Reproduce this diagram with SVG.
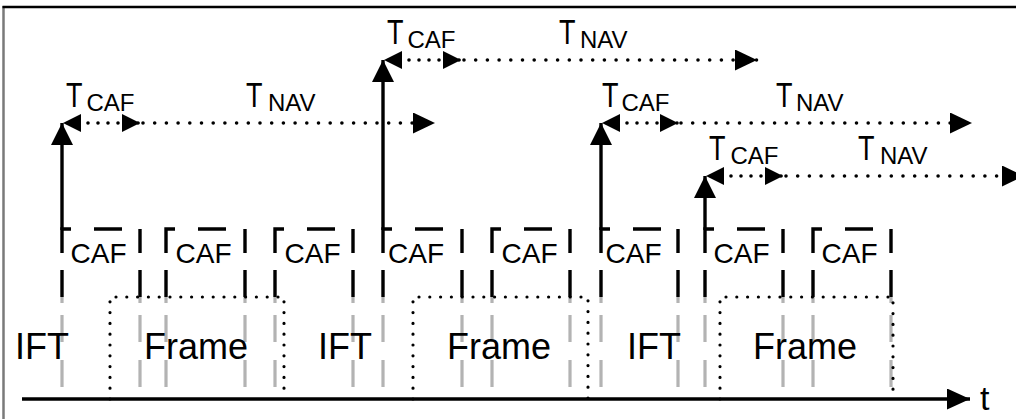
<svg xmlns="http://www.w3.org/2000/svg" width="1016" height="419" viewBox="0 0 1016 419">
<style>
text{font-family:"Liberation Sans",Arial,sans-serif;fill:#000}
.big{font-size:36px}
.caft{font-size:28px}
.tT{font-size:35px}
.tsub{font-size:24px}
.dash{stroke:#000;stroke-width:3.4;fill:none}
.guide{stroke:#b3b3b3;stroke-width:3.2;fill:none;stroke-dasharray:6 12 27 18 27 18}
.frm{stroke:#000;stroke-width:3.2;fill:none;stroke-dasharray:0 10.8;stroke-linecap:round}
.vert{stroke:#000;stroke-width:3.4;fill:none;marker-end:url(#up)}
.tcaf{stroke:#000;stroke-width:3.6;fill:none;stroke-dasharray:0 10;stroke-linecap:round;marker-start:url(#ah);marker-end:url(#ah)}
.tnav{stroke:#000;stroke-width:3.6;fill:none;stroke-dasharray:0 11.7;stroke-linecap:round;marker-end:url(#an)}
</style>
<defs>
<marker id="ah" markerUnits="userSpaceOnUse" markerWidth="18" markerHeight="18" refX="18" refY="9" orient="auto-start-reverse"><path d="M0,0 L18,9 L0,18 z" fill="#000"/></marker>
<marker id="an" markerUnits="userSpaceOnUse" markerWidth="22" markerHeight="21" refX="22" refY="10.5" orient="auto"><path d="M0,0 L22,10.5 L0,21 z" fill="#000"/></marker>
<marker id="up" markerUnits="userSpaceOnUse" markerWidth="22" markerHeight="22" refX="22" refY="11" orient="auto"><path d="M0,0 L22,11 L0,22 z" fill="#000"/></marker>
<marker id="ax" markerUnits="userSpaceOnUse" markerWidth="23" markerHeight="21" refX="23" refY="10.5" orient="auto"><path d="M0,0 L23,10.5 L0,21 z" fill="#000"/></marker>
</defs>

<g id="border">
<line x1="3.5" y1="6" x2="3.5" y2="419" stroke="#7a7a7a" stroke-width="2.5"/>
<line x1="2.5" y1="7" x2="1016" y2="7" stroke="#000" stroke-width="2.5"/>
</g>

<g id="guides">
<path class="guide" d="M62,297V390M140,297V390M166,297V390M245,297V390M275,297V390M353,297V390M383,297V390M462,297V390M492,297V390M570,297V390M601,297V390M678,297V390M705,297V390M783,297V390M813,297V390M891,297V390"/>
</g>

<g id="frame1"><path class="frm" d="M110,399V297H284V399"/><text class="big" x="144" y="359">Frame</text></g>
<g id="frame2"><path class="frm" d="M413,399V297H588V399"/><text class="big" x="447" y="359">Frame</text></g>
<g id="frame3"><path class="frm" d="M720,399V297H893V399"/><text class="big" x="753" y="359">Frame</text></g>

<g id="ift1"><text class="big" x="15" y="359">IFT</text></g>
<g id="ift2"><text class="big" x="318" y="359">IFT</text></g>
<g id="ift3"><text class="big" x="627" y="359">IFT</text></g>

<g id="caf1"><path class="dash" d="M62,253V229H71M94,229H122M62,270V297M140,229V253M140,270V297"/><text class="caft" x="70.5" y="263">CAF</text></g>
<g id="caf2"><path class="dash" d="M166,253V229H175M198,229H226M166,270V297M245,229V253M245,270V297"/><text class="caft" x="175.5" y="263">CAF</text></g>
<g id="caf3"><path class="dash" d="M275,253V229H284M307,229H335M275,270V297M353,229V253M353,270V297"/><text class="caft" x="284.5" y="263">CAF</text></g>
<g id="caf4"><path class="dash" d="M383,253V229H392M415,229H443M383,270V297M462,229V253M462,270V297"/><text class="caft" x="388" y="263">CAF</text></g>
<g id="caf5"><path class="dash" d="M492,253V229H501M524,229H552M492,270V297M570,229V253M570,270V297"/><text class="caft" x="501.5" y="263">CAF</text></g>
<g id="caf6"><path class="dash" d="M601,253V229H610M633,229H661M601,270V297M678,229V253M678,270V297"/><text class="caft" x="605.5" y="263">CAF</text></g>
<g id="caf7"><path class="dash" d="M705,253V229H714M737,229H765M705,270V297M783,229V253M783,270V297"/><text class="caft" x="713.5" y="263">CAF</text></g>
<g id="caf8"><path class="dash" d="M813,253V229H822M845,229H873M813,270V297M891,229V253M891,270V297"/><text class="caft" x="821.5" y="263">CAF</text></g>

<g id="connectors">
<line x1="22" y1="399" x2="970" y2="399" stroke="#000" stroke-width="3.5" marker-end="url(#ax)"/>
<line class="vert" x1="62" y1="230" x2="62" y2="123"/>
<line class="vert" x1="383" y1="230" x2="383" y2="60"/>
<line class="vert" x1="601" y1="230" x2="601" y2="123"/>
<line class="vert" x1="705" y1="230" x2="705" y2="176"/>
<line class="tcaf" x1="63" y1="123" x2="140" y2="123" stroke-dashoffset="5"/>
<line class="tnav" x1="143" y1="123" x2="435" y2="123"/>
<line class="tcaf" x1="384" y1="60" x2="461" y2="60" stroke-dashoffset="5"/>
<line class="tnav" x1="464" y1="60" x2="757" y2="60"/>
<line class="tcaf" x1="602" y1="123" x2="678" y2="123" stroke-dashoffset="5"/>
<line class="tnav" x1="681" y1="123" x2="972" y2="123"/>
<line class="tcaf" x1="706" y1="176" x2="783" y2="176" stroke-dashoffset="5"/>
<line class="tnav" x1="786" y1="176" x2="1024" y2="176"/>
</g>

<g id="labels">
<text class="tT" x="66" y="107" textLength="16.5" lengthAdjust="spacingAndGlyphs">T</text><text class="tsub" x="86.5" y="111">CAF</text>
<text class="tT" x="246" y="107" textLength="16.5" lengthAdjust="spacingAndGlyphs">T</text><text class="tsub" x="268" y="111">NAV</text>
<text class="tT" x="387" y="44" textLength="16.5" lengthAdjust="spacingAndGlyphs">T</text><text class="tsub" x="407.5" y="48">CAF</text>
<text class="tT" x="559" y="44" textLength="16.5" lengthAdjust="spacingAndGlyphs">T</text><text class="tsub" x="580" y="48">NAV</text>
<text class="tT" x="602" y="107" textLength="16.5" lengthAdjust="spacingAndGlyphs">T</text><text class="tsub" x="621.5" y="111">CAF</text>
<text class="tT" x="776" y="107" textLength="16.5" lengthAdjust="spacingAndGlyphs">T</text><text class="tsub" x="796" y="111">NAV</text>
<text class="tT" x="709" y="160" textLength="16.5" lengthAdjust="spacingAndGlyphs">T</text><text class="tsub" x="730.5" y="164">CAF</text>
<text class="tT" x="858" y="160" textLength="16.5" lengthAdjust="spacingAndGlyphs">T</text><text class="tsub" x="880" y="164">NAV</text>
<text x="980" y="410" style="font-size:34px">t</text>
</g>
</svg>
